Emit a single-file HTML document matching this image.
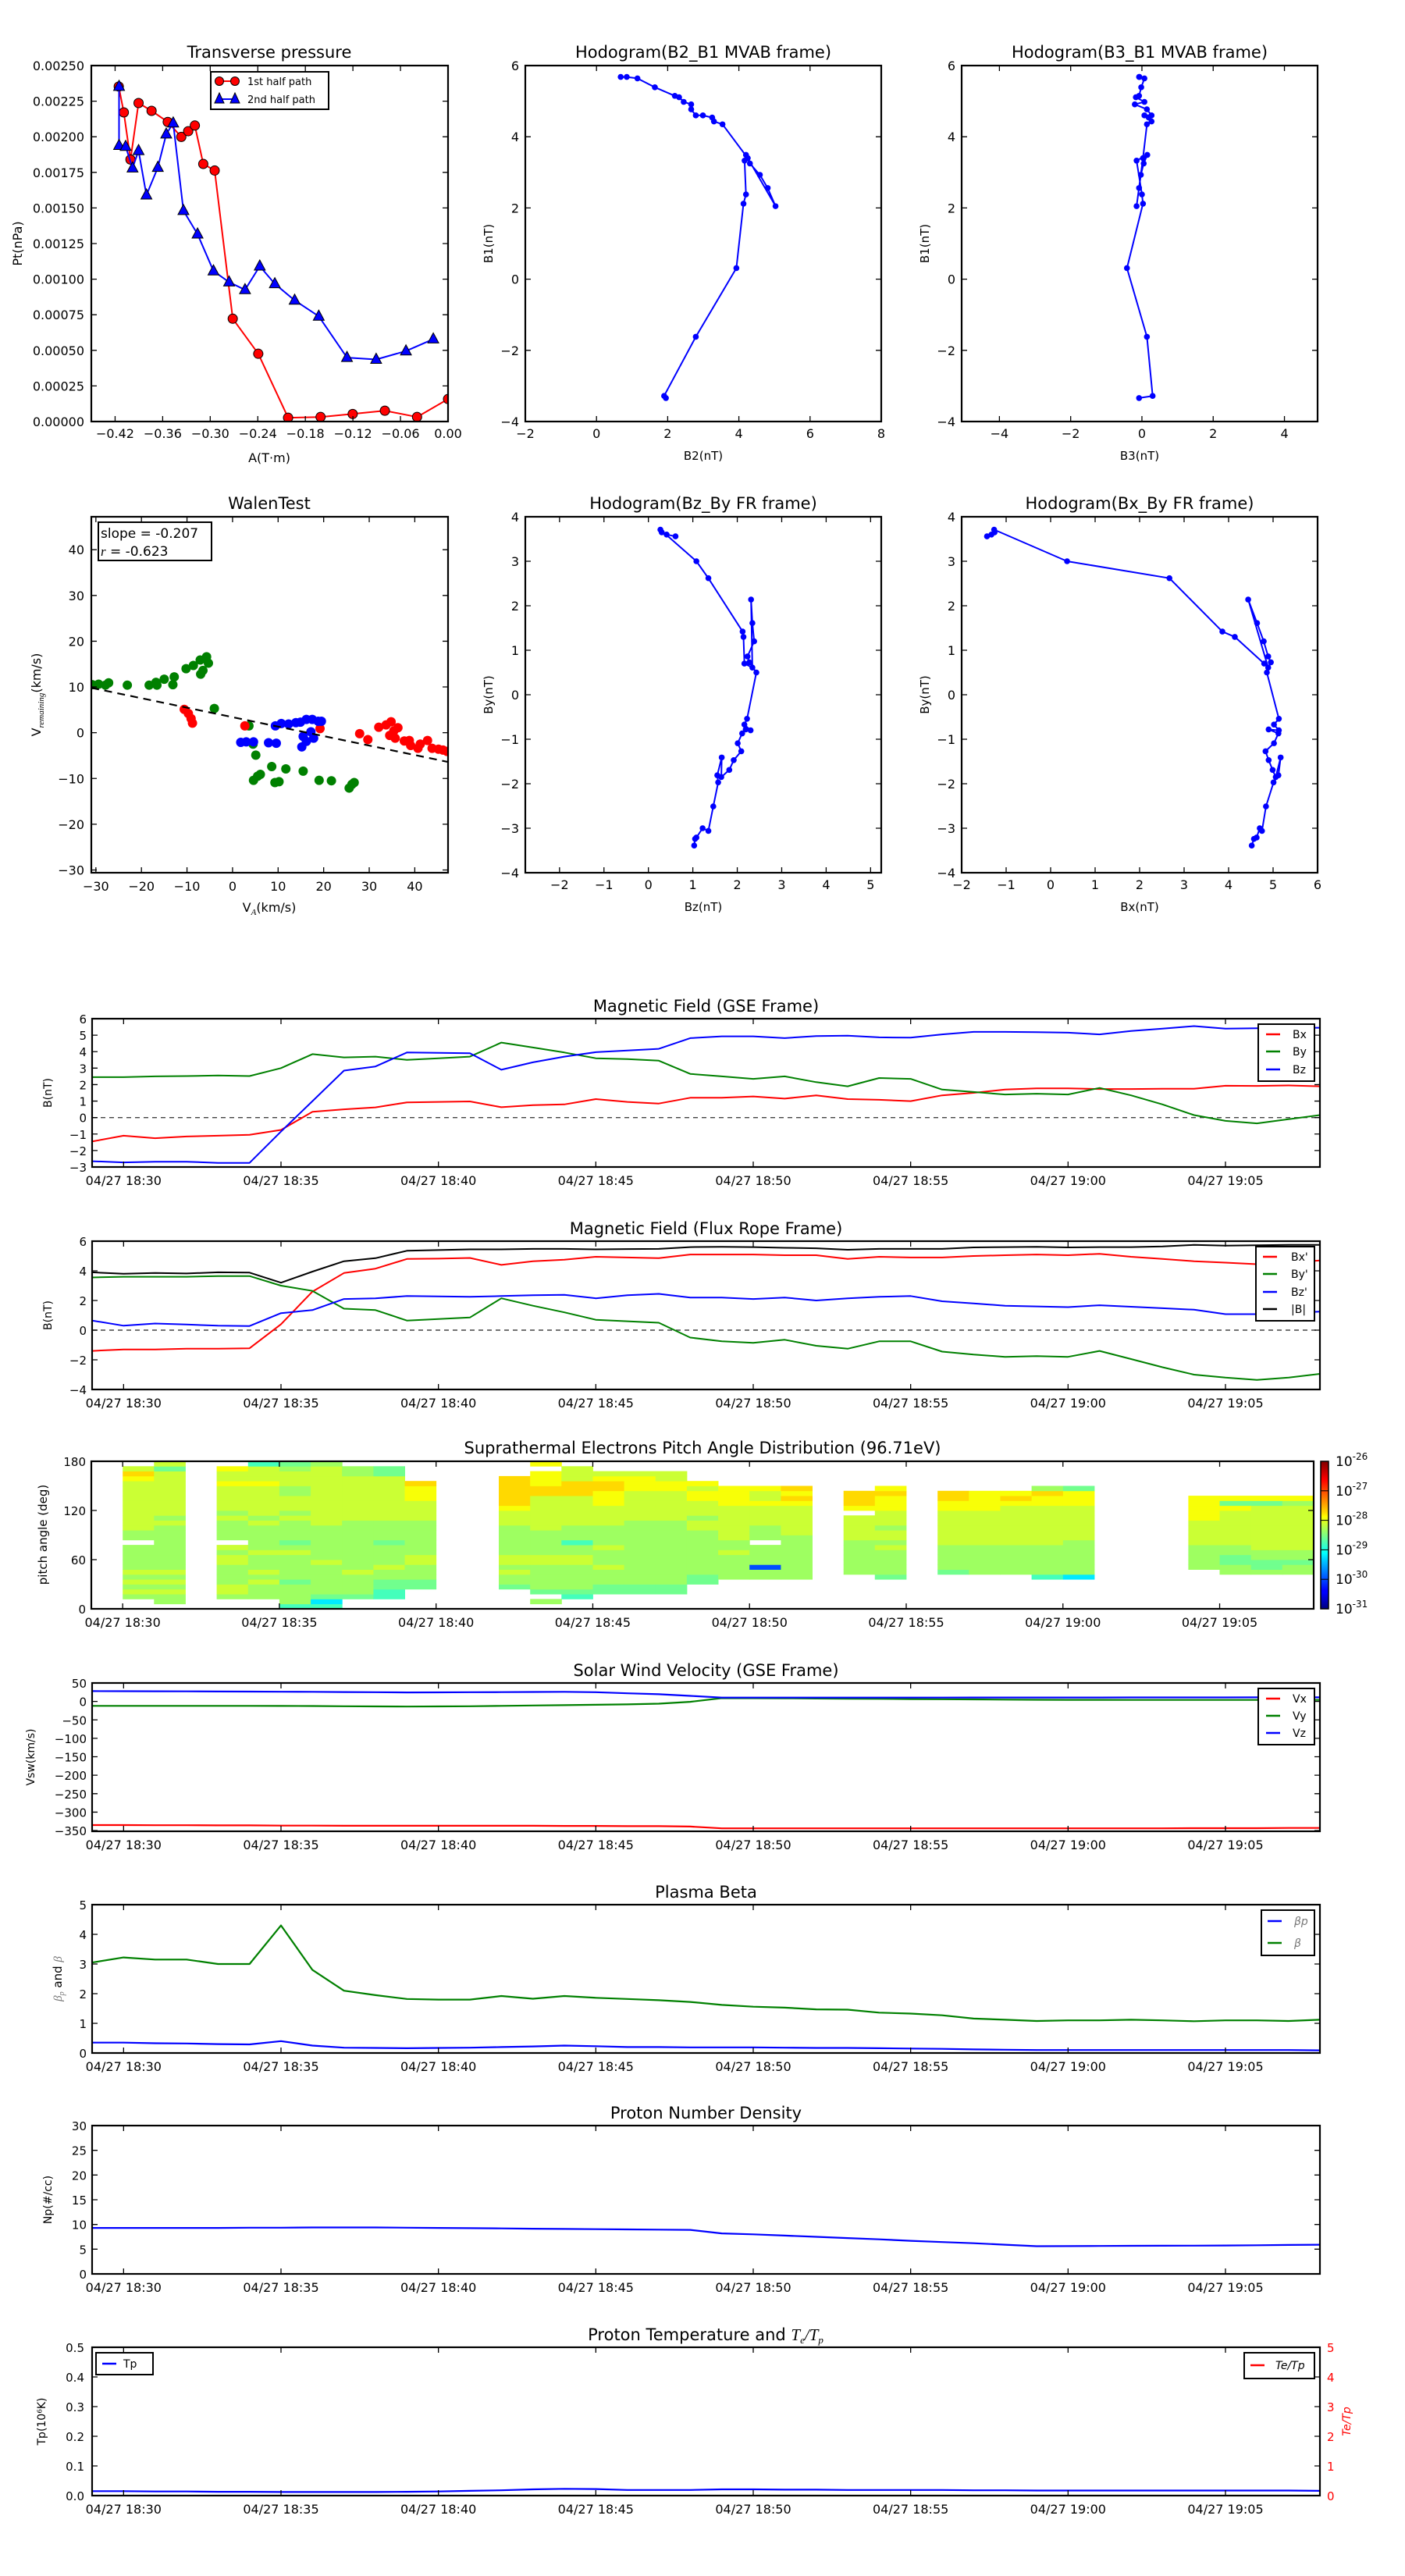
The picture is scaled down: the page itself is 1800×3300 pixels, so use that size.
<!DOCTYPE html>
<html><head><meta charset="utf-8">
<style>
body{margin:0;background:#fff}
svg{display:block}
text{font-family:"DejaVu Sans","Liberation Sans",sans-serif}
</style></head>
<body>
<svg id="fig" width="1800" height="3300" viewBox="0 0 1800 3300">
<defs>
<linearGradient id="jet" x1="0" y1="1" x2="0" y2="0">
<stop offset="0" stop-color="#00007f"/><stop offset="0.11" stop-color="#0000ff"/><stop offset="0.125" stop-color="#0000ff"/>
<stop offset="0.34" stop-color="#00d5ff"/><stop offset="0.375" stop-color="#0ff"/><stop offset="0.5" stop-color="#80ff80"/>
<stop offset="0.625" stop-color="#ff0"/><stop offset="0.66" stop-color="#ffd200"/><stop offset="0.875" stop-color="#f00"/><stop offset="1" stop-color="#7f0000"/>
</linearGradient>
</defs>
</svg>
<script>
// ---------------- DATA ----------------
const tp1A=[-0.4154,-0.409,-0.4006,-0.3904,-0.374,-0.3536,-0.3365,-0.3278,-0.3194,-0.3088,-0.2944,-0.2716,-0.2394,-0.2018,-0.1608,-0.1203,-0.0797,-0.0391,0];
const tp1P=[0.002353,0.002171,0.00184,0.002237,0.002182,0.002104,0.001999,0.002039,0.002079,0.001809,0.001763,0.000722,0.000476,0.000027,0.000032,0.000053,0.000076,0.000032,0.000158];
const tp2A=[-0.415,-0.415,-0.4067,-0.398,-0.3904,-0.3805,-0.3661,-0.3555,-0.3467,-0.3338,-0.316,-0.2959,-0.2762,-0.2561,-0.2375,-0.2185,-0.1935,-0.1631,-0.1275,-0.0907,-0.0531,-0.0186];
const tp2P=[0.002353,0.001938,0.001931,0.00178,0.001902,0.00159,0.001784,0.002018,0.002096,0.001481,0.001316,0.001057,0.000979,0.000925,0.001091,0.000967,0.000851,0.000739,0.000449,0.000436,0.000495,0.000579];
const tpXTicks=[-0.42,-0.36,-0.30,-0.24,-0.18,-0.12,-0.06,0.00];
const tpYTicks=[0,0.00025,0.0005,0.00075,0.001,0.00125,0.0015,0.00175,0.002,0.00225,0.0025];
const mvB1=[-3.34,-3.28,-1.62,0.31,2.12,2.38,3.33,3.49,3.25,2.93,2.56,2.05,3.40,4.35,4.43,4.54,4.60,4.60,4.77,4.91,4.98,5.11,5.15,5.39,5.64,5.68,5.68];
const mvB2=[1.95,1.9,2.79,3.93,4.13,4.20,4.16,4.20,4.31,4.59,4.81,5.03,4.25,3.54,3.30,3.25,2.99,2.79,2.66,2.66,2.45,2.32,2.20,1.64,1.15,0.85,0.68];
const mvB3=[-0.08,0.30,0.14,-0.42,0.03,0.0,-0.15,0.15,0.05,-0.03,-0.08,-0.15,0.03,0.14,0.27,0.19,0.07,0.27,0.14,-0.2,0.07,-0.17,-0.08,-0.02,0.07,-0.08,-0.07];
const frHBy=[3.56,3.60,3.65,3.71,3.00,2.62,1.42,1.30,0.70,0.61,2.14,1.61,1.20,0.86,0.73,0.50,-0.54,-0.67,-0.80,-0.78,-0.87,-1.09,-1.27,-1.47,-1.69,-1.85,-1.41,-1.81,-1.97,-2.51,-3.06,-3.00,-3.21,-3.24,-3.39];
const frHBz=[0.61,0.41,0.30,0.27,1.08,1.35,2.12,2.14,2.16,2.34,2.31,2.34,2.38,2.23,2.27,2.43,2.22,2.16,2.30,2.19,2.11,2.01,2.09,1.92,1.82,1.64,1.65,1.55,1.57,1.46,1.35,1.22,1.08,1.05,1.03];
const frHBx=[-1.43,-1.33,-1.26,-1.27,0.37,2.67,3.86,4.14,4.80,4.89,4.44,4.64,4.79,4.89,4.95,4.86,5.13,5.02,5.13,4.90,5.12,5.02,4.83,4.90,4.99,5.06,5.17,5.12,5.01,4.84,4.75,4.70,4.63,4.57,4.52];
const wgX=[-30.8,-29.4,-27.9,-27.2,-23.1,-18.3,-16.8,-16.6,-15.0,-13.1,-12.8,-10.2,-8.6,-7.1,-7.0,-6.5,-5.7,-5.3,-4.0,3.6,4.5,5.1,4.6,5.5,6.1,8.6,9.3,10.2,11.7,15.5,19.0,21.7,25.6,26.2,26.7];
const wgY=[10.5,10.6,10.4,10.9,10.4,10.4,11.0,10.4,11.7,10.5,12.2,14.0,14.7,15.9,12.8,13.6,16.6,15.2,5.3,1.5,-2.5,-4.9,-10.4,-9.5,-9.1,-7.4,-10.9,-10.7,-7.9,-8.4,-10.4,-10.5,-12.1,-11.3,-10.9];
const wrX=[-10.6,-9.7,-9.1,-8.8,2.7,19.2,27.9,29.7,32.1,33.7,34.8,34.5,35.7,36.3,35.4,37.7,38.8,39.1,40.7,41.2,42.8,43.8,45.2,46.2,47.1];
const wrY=[5.1,4.2,3.1,2.1,1.5,0.9,-0.2,-1.5,1.2,1.7,2.4,-0.6,-1.2,1.1,0.4,-1.8,-1.7,-2.8,-3.4,-2.5,-1.7,-3.4,-3.6,-3.8,-4.1];
const wbX=[1.8,3.0,4.6,7.9,9.6,9.4,10.7,12.3,13.9,14.9,16.2,17.5,18.8,19.5,15.5,17.2,16.2,15.2,17.8];
const wbY=[-2.1,-2.0,-2.0,-2.2,-2.3,1.5,2.0,1.9,2.2,2.3,2.9,2.9,2.5,2.5,-0.8,0.2,-1.9,-3.1,-1.2];
const walenSlope=-0.207, walenIntercept=3.4;
const timeTickLabels=['04/27 18:30','04/27 18:35','04/27 18:40','04/27 18:45','04/27 18:50','04/27 18:55','04/27 19:00','04/27 19:05'];
const gseBx=[-1.45,-1.1,-1.25,-1.15,-1.1,-1.05,-0.75,0.35,0.5,0.62,0.92,0.95,0.98,0.63,0.75,0.8,1.12,0.95,0.85,1.2,1.2,1.28,1.15,1.35,1.12,1.08,1.0,1.35,1.5,1.7,1.77,1.77,1.73,1.73,1.75,1.75,1.93,1.92,1.95,1.9];
const gseBy=[2.45,2.45,2.5,2.52,2.55,2.52,3.0,3.85,3.65,3.7,3.5,3.6,3.7,4.55,4.25,3.95,3.6,3.55,3.45,2.65,2.5,2.35,2.5,2.15,1.9,2.4,2.35,1.7,1.55,1.4,1.45,1.4,1.8,1.35,0.8,0.15,-0.2,-0.35,-0.1,0.15];
const gseBz=[-2.65,-2.72,-2.68,-2.68,-2.75,-2.75,-0.85,1.0,2.85,3.1,3.95,3.93,3.9,2.9,3.35,3.7,3.97,4.07,4.17,4.82,4.93,4.93,4.82,4.95,4.97,4.87,4.85,5.05,5.2,5.2,5.18,5.15,5.05,5.25,5.4,5.55,5.4,5.42,5.45,5.45];
const frBx=[-1.4,-1.3,-1.3,-1.25,-1.25,-1.22,0.4,2.6,3.85,4.15,4.8,4.82,4.87,4.4,4.65,4.75,4.95,4.9,4.85,5.1,5.1,5.1,5.05,5.05,4.8,4.95,4.9,4.9,5.0,5.05,5.1,5.05,5.15,4.95,4.8,4.65,4.55,4.45,4.55,4.7];
const frBy=[3.55,3.6,3.6,3.6,3.65,3.65,3.0,2.65,1.45,1.35,0.65,0.75,0.85,2.15,1.65,1.2,0.7,0.6,0.5,-0.5,-0.75,-0.85,-0.65,-1.05,-1.25,-0.75,-0.75,-1.45,-1.65,-1.8,-1.75,-1.8,-1.4,-1.95,-2.5,-3.0,-3.2,-3.35,-3.2,-2.95];
const frBz=[0.65,0.3,0.45,0.38,0.3,0.28,1.15,1.35,2.1,2.15,2.3,2.28,2.25,2.3,2.35,2.38,2.15,2.35,2.45,2.2,2.2,2.1,2.2,2.0,2.15,2.25,2.3,1.95,1.8,1.65,1.6,1.55,1.68,1.58,1.48,1.38,1.08,1.08,1.15,1.25];
const frBt=[3.9,3.8,3.85,3.82,3.9,3.88,3.2,3.95,4.65,4.85,5.35,5.4,5.45,5.45,5.48,5.48,5.45,5.47,5.48,5.6,5.62,5.6,5.55,5.52,5.42,5.48,5.48,5.48,5.58,5.6,5.62,5.58,5.6,5.6,5.65,5.75,5.7,5.72,5.75,5.75];
const vx=[-335,-335,-335.5,-335.5,-336,-336,-336.5,-336.5,-337,-337,-337,-337,-337,-337,-337,-337.5,-337.5,-338,-338,-339,-344,-344,-344,-344,-344,-344,-344,-344,-344,-344,-344,-344,-344,-344,-344,-343.5,-343.5,-343.5,-343,-343];
const vy=[-12,-12,-12,-12,-12,-12,-12.3,-12.5,-13,-13.5,-14,-13.5,-13,-12,-11,-10,-9,-8,-6,-1,9,8.8,8.5,8,7.5,7,6.5,6,5.5,5,4.5,4.3,4.2,4.1,4,4,4,4,4,4];
const vz=[28,27.8,27.5,27.3,27,26.7,26.3,26,25.5,25,24.5,24.7,25,25.3,25.6,26,25,22,19.5,15,10.5,10.5,10.5,10.5,10.5,10.5,10.5,10.5,10.6,10.6,10.7,10.7,10.7,10.8,10.8,10.9,10.9,11,11,11];
const betaAll=[3.05,3.22,3.15,3.15,3.0,3.0,4.3,2.8,2.1,1.95,1.82,1.8,1.8,1.92,1.83,1.92,1.86,1.82,1.78,1.72,1.62,1.56,1.53,1.47,1.46,1.36,1.33,1.27,1.16,1.12,1.08,1.1,1.1,1.12,1.1,1.07,1.1,1.1,1.08,1.12];
const betaP=[0.35,0.35,0.33,0.32,0.3,0.29,0.4,0.25,0.18,0.17,0.16,0.17,0.18,0.2,0.22,0.25,0.23,0.2,0.2,0.19,0.19,0.19,0.18,0.17,0.17,0.16,0.15,0.14,0.12,0.11,0.1,0.1,0.1,0.1,0.1,0.1,0.1,0.1,0.1,0.09];
const np=[9.3,9.3,9.3,9.3,9.3,9.35,9.35,9.4,9.4,9.4,9.35,9.3,9.25,9.2,9.15,9.1,9.05,9.0,8.95,8.9,8.2,8.0,7.75,7.5,7.25,7.0,6.7,6.45,6.2,5.9,5.6,5.62,5.65,5.68,5.7,5.72,5.75,5.8,5.85,5.9];
const tpK=[0.015,0.015,0.014,0.014,0.013,0.013,0.012,0.012,0.012,0.012,0.013,0.014,0.016,0.018,0.021,0.023,0.022,0.019,0.019,0.019,0.021,0.021,0.020,0.020,0.019,0.019,0.019,0.019,0.018,0.018,0.017,0.017,0.017,0.017,0.017,0.017,0.017,0.017,0.017,0.016];
const E='..............................';
const padCols=[
 '..'+'56565655555'+'.'+'556666666666786'+'.',
 '.'+'556565655555'+'55556566666666'+'646',
 E,
 '..'+'56655556656'+'.'+'555565666667667'+'.',
 '..'+'55565655565'+'5'+'5556566666676663',
 '3'+'5'+'55545555565'+'4'+'5555656665566654',
 '3'+'1'+'45555556555'+'5'+'5556666666666665',
 '..'+'45555655555'+'5'+'555566666666655.',
 '..'+'33445565555'+'4'+'555566666666644.',
 '....'+'4455566555'+'5'+'55566667778'+'....',
 E, E,
 '....'+'45565665555'+'5'+'56667888888'+'...',
 '.'+'5'+'.'+'4555556655'+'5'+'5566666668877'+'7'+'.'+'7',
 '..'+'34555556655'+'3'+'55566666688866'+'6.',
 '...'+'4455565556'+'5'+'55566667778876'+'..',
 '...'+'4455555555'+'5'+'55556666667776'+'..',
 '...'+'4455555555'+'5'+'55556666667766'+'..',
 '.....'+'445555555556656667767'+'....',
 '......'+'5555565566666667777'+'.....',
 '......'+'55'+'0'+'5555'+'.'+'55566667667'+'.....',
 '......'+'5555555556666667878'+'.....',
 E,
 '.......'+'555555566666'+'.'+'7888'+'......',
 '......'+'4555556566566677787'+'.....',
 E,
 '.......'+'4'+'5555566666667788'+'......',
 '.......'+'55555566666667777'+'......',
 '.......'+'55555566666666787'+'......',
 '......'+'3'+'555555666666667785'+'.....',
 '......'+'1'+'555555566666667774'+'.....',
 E, E, E,
 '........'+'555556666677777'+'.......',
 '.......'+'5544556666666747'+'.......',
 '.......'+'5445566666666647'+'.......',
 '.......'+'5545566666666657'+'.......'
];
const cbarLabels=['-26','-27','-28','-29','-30','-31'];

// ---------------- HELPERS ----------------
const NS='http://www.w3.org/2000/svg';
const svg=document.getElementById('fig');
const defs=svg.querySelector('defs');
function mk(tag, attrs, parent, name){
  const e=document.createElementNS(NS,tag);
  for(const k in attrs) e.setAttribute(k, attrs[k]);
  
  
  parent.appendChild(e);
  return e;
}
function txt(parent,x,y,s,size,anchor,name,extra){
  const t=mk('text',Object.assign({x:x,y:y,'font-size':size,'text-anchor':anchor||'start'},extra||{}),parent,name);
  t.textContent=s; return t;
}
function fmtNum(v,d){const s=Math.abs(v).toFixed(d);return (v<0?'\u2212':'')+s;}
function axes(name,L,T,R,B,xmin,xmax,ymin,ymax){
  const g=mk('g',{},svg,name);
  const cp=mk('clipPath',{id:'clip-'+name},defs,name+'-clip');
  mk('rect',{x:L,y:T,width:R-L,height:B-T},cp,name+'-clip-rect');
  const plot=mk('g',{'clip-path':'url(#clip-'+name+')'},g,name+'-plot-area');
  return {g,plot,L,T,R,B,
    X:v=>L+(v-xmin)/(xmax-xmin)*(R-L),
    Y:v=>B-(v-ymin)/(ymax-ymin)*(B-T)};
}
function frame(a,xt,yt,len){
  let d='';
  xt.forEach(v=>{const x=a.X(v);d+=`M${x},${a.B}v${-len}M${x},${a.T}v${len}`;});
  yt.forEach(v=>{const y=a.Y(v);d+=`M${a.L},${y}h${len}M${a.R},${y}h${-len}`;});
  mk('path',{d:d,stroke:'#000','stroke-width':1.3,fill:'none'},a.g,'tick-marks');
  mk('rect',{x:a.L,y:a.T,width:a.R-a.L,height:a.B-a.T,fill:'none',stroke:'#000','stroke-width':2.2},a.g,'axes-frame');
}
function line(parent,xs,ys,a,color,w,name,dash){
  const pts=xs.map((x,i)=>a.X(x).toFixed(1)+','+a.Y(ys[i]).toFixed(1)).join(' ');
  const o={points:pts,fill:'none',stroke:color,'stroke-width':w||2,'stroke-linejoin':'round'};
  if(dash)o['stroke-dasharray']=dash;
  return mk('polyline',o,parent,name);
}
function dots(parent,xs,ys,a,color,r,name,stroke){
  xs.forEach((x,i)=>{
    const c=mk('circle',{cx:a.X(x),cy:a.Y(ys[i]),r:r,fill:color,stroke:stroke||'none','stroke-width':1},parent,name);
  });
}
function rotLabel(parent,x,y,s,size,name,extra){
  return txt(parent,x,y,s,size,'middle',name,Object.assign({transform:`rotate(-90 ${x} ${y})`},extra||{}));
}

// ---------------- TRANSVERSE PRESSURE ----------------
(function(){
  const a=axes('transverse-pressure-chart',117,84,574,540,-0.45,0,0,0.0025);
  line(a.plot,tp1A,tp1P,a,'#f00',2,'first-half-line');
  dots(a.plot,tp1A,tp1P,a,'#f00',6,'first-half-marker','#000');
  line(a.plot,tp2A,tp2P,a,'#00f',2,'second-half-line');
  tp2A.forEach((x,i)=>{const cx=a.X(x),cy=a.Y(tp2P[i]);
    mk('polygon',{points:`${cx},${cy-8} ${cx-7},${cy+5} ${cx+7},${cy+5}`,fill:'#00f',stroke:'#000','stroke-width':1},a.plot,'second-half-marker');});
  frame(a,tpXTicks,tpYTicks,7);
  tpXTicks.forEach(v=>txt(a.g,a.X(v),561,fmtNum(v,2),16,'middle','x-tick-label'));
  tpYTicks.forEach(v=>txt(a.g,108,a.Y(v)+6,v.toFixed(5),16,'end','y-tick-label'));
  txt(a.g,345,74,'Transverse pressure',21,'middle','chart-title');
  txt(a.g,345,592,'A(T\u00b7m)',16,'middle','x-axis-title');
  rotLabel(a.g,28,312,'Pt(nPa)',16,'y-axis-title');
  const lg=mk('g',{},a.g,'legend');
  mk('rect',{x:270,y:92,width:151,height:48,fill:'#fff',stroke:'#000','stroke-width':2},lg,'legend-box');
  mk('line',{x1:281,y1:104,x2:301,y2:104,stroke:'#f00','stroke-width':2},lg,'legend-line-first');
  mk('circle',{cx:281,cy:104,r:5.5,fill:'#f00',stroke:'#000'},lg,'legend-marker-first');
  mk('circle',{cx:301,cy:104,r:5.5,fill:'#f00',stroke:'#000'},lg,'legend-marker-first');
  txt(lg,317,109,'1st half path',13,'start','legend-entry');
  mk('line',{x1:281,y1:127,x2:301,y2:127,stroke:'#00f','stroke-width':2},lg,'legend-line-second');
  [281,301].forEach(cx=>mk('polygon',{points:`${cx},${119} ${cx-6},${132} ${cx+6},${132}`,fill:'#00f',stroke:'#000'},lg,'legend-marker-second'));
  txt(lg,317,132,'2nd half path',13,'start','legend-entry');
})();

// ---------------- HODOGRAMS ----------------
function hodogram(name,L,T,B,xmin,xmax,ymin,ymax,xs,ys,xticks,yticks,title,xl,yl,labY){
  const a=axes(name,L,T,L+456,B,xmin,xmax,ymin,ymax);
  line(a.plot,xs,ys,a,'#00f',2,'hodogram-line');
  dots(a.plot,xs,ys,a,'#00f',3.8,'hodogram-point');
  frame(a,xticks,yticks,7);
  xticks.forEach(v=>txt(a.g,a.X(v),labY,fmtNum(v,0),16,'middle','x-tick-label'));
  yticks.forEach(v=>txt(a.g,L-8,a.Y(v)+6,fmtNum(v,0),16,'end','y-tick-label'));
  txt(a.g,L+228,T-10,title,21,'middle','chart-title');
  txt(a.g,L+228,labY+28,xl,15,'middle','x-axis-title');
  rotLabel(a.g,L-42,(T+B)/2,yl,15,'y-axis-title');
}
hodogram('hodogram-b2-b1',673,84,540,-2,8,-4,6,mvB2,mvB1,[-2,0,2,4,6,8],[-4,-2,0,2,4,6],'Hodogram(B2_B1 MVAB frame)','B2(nT)','B1(nT)',561);
hodogram('hodogram-b3-b1',1232,84,540,-5.06,4.93,-4,6,mvB3,mvB1,[-4,-2,0,2,4],[-4,-2,0,2,4,6],'Hodogram(B3_B1 MVAB frame)','B3(nT)','B1(nT)',561);
hodogram('hodogram-bz-by',673,662,1118,-2.77,5.24,-4,4,frHBz,frHBy,[-2,-1,0,1,2,3,4,5],[-4,-3,-2,-1,0,1,2,3,4],'Hodogram(Bz_By FR frame)','Bz(nT)','By(nT)',1139);
hodogram('hodogram-bx-by',1232,662,1118,-2,6,-4,4,frHBx,frHBy,[-2,-1,0,1,2,3,4,5,6],[-4,-3,-2,-1,0,1,2,3,4],'Hodogram(Bx_By FR frame)','Bx(nT)','By(nT)',1139);

// ---------------- WALEN TEST ----------------
(function(){
  const a=axes('walen-test-chart',117,662,574,1118,-31,47.3,-30.6,47.2);
  dots(a.plot,wgX,wgY,a,'#008000',6,'walen-point-green');
  dots(a.plot,wrX,wrY,a,'#f00',6,'walen-point-red');
  dots(a.plot,wbX,wbY,a,'#00f',6,'walen-point-blue');
  line(a.plot,[-31,47.3],[walenSlope*-31+walenIntercept,walenSlope*47.3+walenIntercept],a,'#000',2.2,'fit-line','10,7');
  const xt=[-30,-20,-10,0,10,20,30,40];
  frame(a,xt,xt,7);
  xt.forEach(v=>txt(a.g,a.X(v),1141,fmtNum(v,0),16,'middle','x-tick-label'));
  xt.forEach(v=>txt(a.g,108,a.Y(v)+6,fmtNum(v,0),16,'end','y-tick-label'));
  txt(a.g,345,652,'WalenTest',21,'middle','chart-title');
  const xl=txt(a.g,345,1168,'V',16,'middle','x-axis-title');
  const s1=mk('tspan',{'font-size':11,'font-style':'italic','font-family':'Liberation Serif,serif',dy:4},xl,'x-axis-subscript');s1.textContent='A';
  const s2=mk('tspan',{dy:-4},xl,'x-axis-units');s2.textContent='(km/s)';
  const yl=rotLabel(a.g,52,890,'V',16,'y-axis-title');
  const s3=mk('tspan',{'font-size':11,'font-style':'italic','font-family':'Liberation Serif,serif',dy:4},yl,'y-axis-subscript');s3.textContent='remaining';
  const s4=mk('tspan',{dy:-4},yl,'y-axis-units');s4.textContent='(km/s)';
  const bx=mk('g',{},a.g,'stats-box');
  mk('rect',{x:126,y:669,width:145,height:49,fill:'#fff',stroke:'#000','stroke-width':2},bx,'stats-box-frame');
  txt(bx,129,689,'slope = -0.207',17,'start','slope-label');
  const r=txt(bx,129,712,'',17,'start','r-label');
  const ri=mk('tspan',{'font-style':'italic','font-family':'Liberation Serif,serif'},r,'r-symbol');ri.textContent='r';
  const rv=mk('tspan',{},r,'r-value');rv.textContent=' = -0.623';
})();

// ---------------- TIME SERIES ----------------
const tsMins=gseBx.map((_,i)=>i);
const tickMins=[1,6,11,16,21,26,31,36];
function tsPanel(name,T,ymin,ymax,yticks,ylabels,title,R){
  const a=axes(name,118,T,R||1691,T+190,0,39,ymin,ymax);
  a.yticks=yticks;a.ylabels=ylabels;
  txt(a.g,(118+(R||1691))/2,T-9,title,21,'middle','chart-title');
  return a;
}
function tsFinish(a,lblX){
  frame(a,tickMins,a.yticks,7);
  tickMins.forEach((m,i)=>txt(a.g,a.X(m),a.B+23,timeTickLabels[i],16,'middle','time-tick-label'));
  a.yticks.forEach((v,i)=>txt(a.g,lblX||111,a.Y(v)+6,a.ylabels[i],15,'end','y-tick-label'));
}
function tsLegend(a,x0,y0,x1,y1,labels,colors,ys,lx0,lx1,tx0){
  const lg=mk('g',{},a.g,'legend');
  mk('rect',{x:x0,y:y0,width:x1-x0,height:y1-y0,fill:'#fff',stroke:'#000','stroke-width':2},lg,'legend-box');
  labels.forEach((l,i)=>{
    mk('line',{x1:lx0,y1:ys[i],x2:lx1,y2:ys[i],stroke:colors[i],'stroke-width':2.5},lg,'legend-line');
    txt(lg,tx0,ys[i]+5,l,14,'start','legend-entry');
  });
  return lg;
}
const numLabels=arr=>arr.map(v=>fmtNum(v,0));

(function(){
  const yt=[-3,-2,-1,0,1,2,3,4,5,6];
  const a=tsPanel('magnetic-field-gse',1305,-3,6,yt,numLabels(yt),'Magnetic Field (GSE Frame)');
  line(a.plot,[0,39],[0,0],a,'#444',1.4,'zero-line','6,5');
  line(a.plot,tsMins,gseBx,a,'#f00',2,'bx-line');
  line(a.plot,tsMins,gseBy,a,'#008000',2,'by-line');
  line(a.plot,tsMins,gseBz,a,'#00f',2,'bz-line');
  tsFinish(a);
  rotLabel(a.g,66,1400,'B(nT)',14,'y-axis-title');
  tsLegend(a,1612,1312,1684,1385,['Bx','By','Bz'],['#f00','#008000','#00f'],[1325,1347,1370],1622,1640,1656);
})();
(function(){
  const yt=[-4,-2,0,2,4,6];
  const a=tsPanel('magnetic-field-flux-rope',1590,-4,6,yt,numLabels(yt),'Magnetic Field (Flux Rope Frame)');
  line(a.plot,[0,39],[0,0],a,'#444',1.4,'zero-line','6,5');
  line(a.plot,tsMins,frBx,a,'#f00',2,'bx-prime-line');
  line(a.plot,tsMins,frBy,a,'#008000',2,'by-prime-line');
  line(a.plot,tsMins,frBz,a,'#00f',2,'bz-prime-line');
  line(a.plot,tsMins,frBt,a,'#000',2,'b-total-line');
  tsFinish(a);
  rotLabel(a.g,66,1685,'B(nT)',14,'y-axis-title');
  tsLegend(a,1609,1597,1684,1692,["Bx'","By'","Bz'",'|B|'],['#f00','#008000','#00f','#000'],[1610,1632,1655,1677],1618,1636,1654);
})();
(function(){
  const a=axes('pitch-angle-distribution',117,1872,1683,2061,0,39,0,180);
  txt(a.g,900,1862,'Suprathermal Electrons Pitch Angle Distribution (96.71eV)',21,'middle','chart-title');
  const jet=t=>{const c=v=>Math.round(255*Math.max(0,Math.min(1,v)));
    return `rgb(${c(1.5-Math.abs(4*t-3))},${c(1.5-Math.abs(4*t-2))},${c(1.5-Math.abs(4*t-1))})`;};
  padCols.forEach((col,ci)=>{
    for(let b=0;b<30;b++){
      const ch=col[b]; if(!ch||ch==='.')continue;
      const d=parseInt(ch);
      const logv=d===0?-30.0:-29.45+d*0.22;
      const t=(logv+31)/5;
      const x0=a.X(ci+1),x1=a.X(ci+2),y0=a.Y((b+1)*6),y1=a.Y(b*6);
      mk('rect',{x:x0.toFixed(1),y:y0.toFixed(1),width:(x1-x0+0.4).toFixed(1),height:(y1-y0+0.4).toFixed(1),fill:jet(t)},a.plot,'pad-cell');
    }
  });
  a.yticks=[0,60,120,180];a.ylabels=['0','60','120','180'];
  frame(a,tickMins,a.yticks,7);
  tickMins.forEach((m,i)=>txt(a.g,a.X(m),a.B+23,timeTickLabels[i],16,'middle','time-tick-label'));
  a.yticks.forEach((v,i)=>txt(a.g,110,a.Y(v)+6,a.ylabels[i],15,'end','y-tick-label'));
  rotLabel(a.g,60,1966,'pitch angle (deg)',15,'y-axis-title');
  const cb=mk('g',{},svg,'colorbar');
  mk('rect',{x:1692,y:1872,width:10,height:189,fill:'url(#jet)',stroke:'#000','stroke-width':1.5},cb,'colorbar-gradient');
  cbarLabels.forEach((l,i)=>{
    const y=1872+i*37.8;
    mk('line',{x1:1692,y1:y,x2:1702,y2:y,stroke:'#000','stroke-width':1},cb,'colorbar-tick');
    const t=txt(cb,1711,y+6,'10',17,'start','colorbar-label');
    const sp=mk('tspan',{'font-size':12,dy:-8},t,'colorbar-exponent');sp.textContent=l;
  });
})();
(function(){
  const yt=[-350,-300,-250,-200,-150,-100,-50,0,50];
  const a=tsPanel('solar-wind-velocity',2156,-352,50,yt,numLabels(yt),'Solar Wind Velocity (GSE Frame)');
  line(a.plot,tsMins,vx,a,'#f00',2.2,'vx-line');
  line(a.plot,tsMins,vy,a,'#008000',2.2,'vy-line');
  line(a.plot,tsMins,vz,a,'#00f',2.2,'vz-line');
  tsFinish(a);
  rotLabel(a.g,44,2251,'Vsw(km/s)',14,'y-axis-title');
  tsLegend(a,1612,2163,1684,2235,['Vx','Vy','Vz'],['#f00','#008000','#00f'],[2176,2198,2220],1622,1640,1656);
})();
(function(){
  const yt=[0,1,2,3,4,5];
  const a=tsPanel('plasma-beta',2440,0,5,yt,numLabels(yt),'Plasma Beta');
  line(a.plot,tsMins,betaP,a,'#00f',2.2,'beta-p-line');
  line(a.plot,tsMins,betaAll,a,'#008000',2.2,'beta-line');
  tsFinish(a);
  const yl=rotLabel(a.g,79,2535,'',15,'y-axis-title');
  const m1=mk('tspan',{'font-style':'italic','font-family':'Liberation Serif,serif',fill:'#777'},yl,'beta-symbol');m1.textContent='\u03b2';
  const m2=mk('tspan',{'font-size':10,dy:3,'font-style':'italic','font-family':'Liberation Serif,serif',fill:'#777'},yl,'beta-subscript');m2.textContent='p';
  const m3=mk('tspan',{dy:-3},yl,'beta-and');m3.textContent=' and ';
  const m4=mk('tspan',{'font-style':'italic','font-family':'Liberation Serif,serif',fill:'#777'},yl,'beta-symbol');m4.textContent='\u03b2';
  const lg=tsLegend(a,1616,2447,1684,2505,['',''],['#00f','#008000'],[2461,2489],1624,1642,1656);
  txt(lg,1658,2466,'\u03b2p',14,'start','legend-entry',{'font-style':'italic','font-family':'Liberation Serif,serif',fill:'#777'});
  txt(lg,1658,2494,'\u03b2',14,'start','legend-entry',{'font-style':'italic','font-family':'Liberation Serif,serif',fill:'#777'});
})();
(function(){
  const yt=[0,5,10,15,20,25,30];
  const a=tsPanel('proton-number-density',2723,0,30,yt,numLabels(yt),'Proton Number Density');
  line(a.plot,tsMins,np,a,'#00f',2.2,'density-line');
  tsFinish(a);
  rotLabel(a.g,66,2818,'Np(#/cc)',14,'y-axis-title');
})();
(function(){
  const yt=[0,0.1,0.2,0.3,0.4,0.5];
  const a=tsPanel('proton-temperature',3007,0,0.5,yt,yt.map(v=>v.toFixed(1)),'');
  const tt=txt(a.g,904,2998,'Proton Temperature and ',21,'middle','chart-title');
  const tm=mk('tspan',{'font-style':'italic','font-family':'Liberation Serif,serif'},tt,'title-math');tm.textContent='T';
  const te=mk('tspan',{'font-size':13,dy:4,'font-style':'italic','font-family':'Liberation Serif,serif'},tt,'title-math');te.textContent='e';
  const tsl=mk('tspan',{dy:-4,'font-style':'italic','font-family':'Liberation Serif,serif'},tt,'title-math');tsl.textContent='/T';
  const tp=mk('tspan',{'font-size':13,dy:4,'font-style':'italic','font-family':'Liberation Serif,serif'},tt,'title-math');tp.textContent='p';
  line(a.plot,tsMins,tpK,a,'#00f',2.2,'tp-line');
  tsFinish(a,108);
  const rt=[0,1,2,3,4,5];
  rt.forEach(v=>{const y=a.Y(v/10);
    txt(a.g,1700,y+6,String(v),15,'start','right-y-tick-label',{fill:'#f00'});});
  rotLabel(a.g,58,3102,'Tp(10\u2076K)',14,'y-axis-title');
  rotLabel(a.g,1730,3102,'Te/Tp',14,'right-y-axis-title',{fill:'#f00','font-style':'italic','font-family':'Liberation Serif,serif'});
  tsLegend(a,123,3014,196,3042,['Tp'],['#00f'],[3028],131,149,158);
  tsLegend(a,1594,3014,1684,3047,[''],['#f00'],[3030],1602,1620,1634);
  txt(a.g,1634,3035,'Te/Tp',14,'start','legend-entry',{'font-style':'italic','font-family':'Liberation Serif,serif'});
})();
</script>
</body></html>
